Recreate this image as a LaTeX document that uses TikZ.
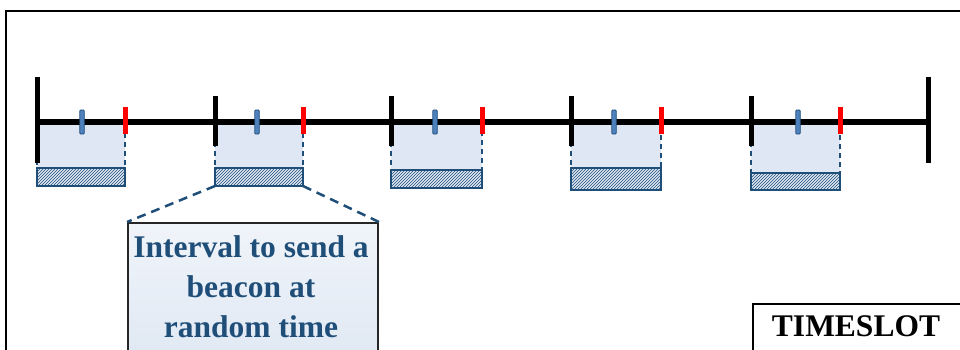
\documentclass[tikz,border=0pt]{standalone}
\usepackage{fontspec}
\setmainfont{Liberation Serif}
\usepackage{tikz}
\usetikzlibrary{patterns, positioning}
\definecolor{navy}{HTML}{1F4E79}
\definecolor{paleblue}{HTML}{DEE7F3}
\definecolor{beaconblue}{HTML}{4F81BD}

\begin{document}
\begin{tikzpicture}[
        x=1pt, y=-1pt,
        axis/.style={line width=5.5pt},
        bigtick/.style={line width=5pt},
        lightarea/.style={fill=paleblue, draw=navy, line width=1.3pt, dash pattern=on 5pt off 4pt},
        hatchbox/.style={rectangle, draw=navy, line width=1.5pt, fill=paleblue, outer sep=0pt, inner sep=0pt,
            postaction={pattern=north east lines, pattern color=navy}},
        beacon/.style={rectangle, rounded corners=1pt, draw=navy, fill=beaconblue, line width=0.8pt,
            minimum width=4.5pt, minimum height=24pt, inner sep=0pt},
        sendmark/.style={rectangle, fill=red, minimum width=5pt, minimum height=27pt, inner sep=0pt},
        callbox/.style={rectangle, draw=black!85, line width=2pt, top color=paleblue!45, bottom color=paleblue,
            minimum width=250pt, minimum height=150pt, anchor=north west},
        calltext/.style={align=center, text=navy, font=\fontsize{31.5}{40}\selectfont\bfseries, inner sep=0pt},
        slotbox/.style={rectangle, draw, line width=1.5pt, fill=white, minimum width=240pt, minimum height=80pt,
            anchor=north west},
        slottext/.style={font=\fontsize{31.5}{40}\selectfont\bfseries, inner sep=0pt},
        line/.style={draw=navy, line width=2.5pt, dash pattern=on 9pt off 6pt}
        ]
        \path[use as bounding box, clip] (0,0) rectangle (960,350);
        \draw[line width=2pt] (6,11) rectangle (980,370);

        % Slots
        \foreach \i/\xa/\xb/\xr/\yt/\yb in {1/37/82/125/168/186, 2/215/257/303/168/186,
                3/391/435/482/170/188, 4/571/614/661/168/190, 5/751/798/840/173/190} {
            \draw[lightarea] (\xa,124) rectangle (\xr,\yt);
            \node[hatchbox, minimum width=\xr-\xa, minimum height=\yb-\yt, anchor=north west] (hatch\i) at (\xa,\yt) {};
        }

        % Timeline
        \draw[axis] (37,122) -- (928,122);
        \draw[bigtick] (37,77) -- (37,163);
        \draw[bigtick] (928,77) -- (928,163);
        \foreach \xa in {215, 391, 571, 751}
            \draw[bigtick] (\xa,96) -- (\xa,146);

        % Nodes
        \foreach \i/\xb/\xr in {1/82/125, 2/257/303, 3/435/482, 4/614/661, 5/798/840} {
            \node[beacon] (bcn\i) at (\xb,122) {};
            \node[sendmark] (send\i) at (\xr,120.5) {};
        }
        \node[callbox] (callout) at (127,222) {};
        \node[calltext, anchor=north] (calltxt) at (251,235) {Interval to send a\\beacon at\\random time};
        \node[slotbox] (tsbox) at (752,303) {};
        \node[slottext, anchor=base] (tslabel) at (856,336) {TIMESLOT};

        % Edges
        \path[line] (hatch2.south west) -- (callout.north west);
        \path[line] (hatch2.south east) -- (callout.north east);
    \end{tikzpicture}
\end{document}
